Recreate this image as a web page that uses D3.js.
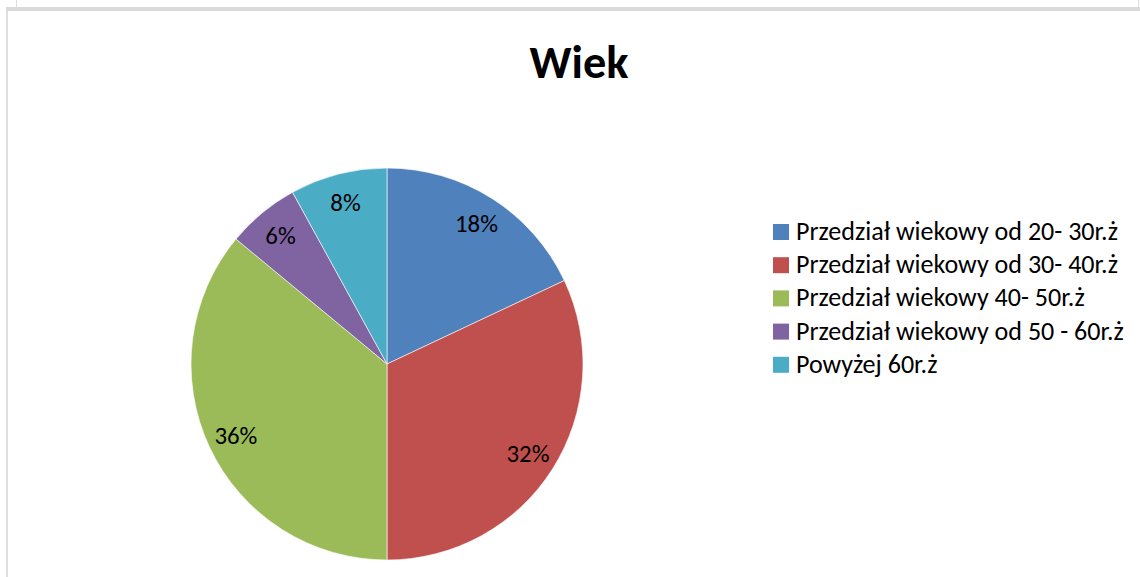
<!DOCTYPE html>
<html>
<head>
  <meta charset="utf-8">
  <title>Wiek</title>
  <style>
    body,html{
      margin:0;
      padding:0;
      background:#fff;
      font-family: Carlito, Lato, "Open Sans", sans-serif;
    }
  </style>
</head>
<body>
  <div id="container"></div>
  <script src="https://cdn.jsdelivr.net/npm/d3@7"></script>
  <script>
    // data
    var categories = [
      'Przedział wiekowy od 20- 30r.ż',
      'Przedział wiekowy od 30- 40r.ż',
      'Przedział wiekowy 40- 50r.ż',
      'Przedział wiekowy od 50 - 60r.ż',
      'Powyżej 60r.ż'
    ];
    var values = [18, 32, 36, 6, 8];
    var colors = ['#4f81bd', '#c0504d', '#9bbb59', '#8064a2', '#4bacc6'];
    var title = 'Wiek';

    var W = 1140, H = 577;
    var cx = 387, cy = 364, R = 196;

    var svg = d3.select('#container').append('svg')
      .attr('width', W).attr('height', H);

    // frames (bottom of previous chart box + this chart box)
    svg.append('rect').attr('x', 16).attr('y', 0).attr('width', 1).attr('height', 8).attr('fill', '#dcdcdc');
    svg.append('rect').attr('x', 1138).attr('y', 0).attr('width', 1).attr('height', 8).attr('fill', '#dcdcdc');
    svg.append('rect').attr('x', 6).attr('y', 7).attr('width', W).attr('height', 4).attr('fill', '#dadada');
    svg.append('rect').attr('x', 6).attr('y', 10).attr('width', 2).attr('height', H).attr('fill', '#dedede');

    // fit text to a target width
    function fit(sel, target){
      var n = sel.node();
      var fs = parseFloat(sel.attr('font-size'));
      var w = n.getComputedTextLength();
      sel.attr('font-size', (fs*target/w).toFixed(2));
    }

    var t = svg.append('text')
      .attr('x', 579).attr('y', 78)
      .attr('text-anchor', 'middle')
      .attr('font-weight', 'bold')
      .attr('font-size', 40)
      .attr('fill', '#000')
      .text(title);
    fit(t, 99);

    var pie = d3.pie().sort(null).value(function(d){return d;});
    var arc = d3.arc().innerRadius(0).outerRadius(R);
    var labelArc = d3.arc().innerRadius(167).outerRadius(167);

    var g = svg.append('g').attr('transform', 'translate('+cx+','+cy+')');
    var arcs = pie(values);

    g.selectAll('path').data(arcs).enter().append('path')
      .attr('d', arc)
      .attr('fill', function(d,i){return colors[i];})
      .attr('stroke', '#fff')
      .attr('stroke-width', 0.6);

    var labels = g.selectAll('text').data(arcs).enter().append('text')
      .attr('transform', function(d){return 'translate('+labelArc.centroid(d)+')';})
      .attr('text-anchor', 'middle')
      .attr('dy', '0.35em')
      .attr('font-size', 22)
      .attr('fill', '#000')
      .text(function(d){return d.data+'%';});
    // size from the "18%" label
    var lw = labels.nodes()[0].getComputedTextLength();
    labels.attr('font-size', (22*43/lw).toFixed(2));

    // legend
    var legend = svg.append('g').attr('transform', 'translate(773,224)');
    var rows = legend.selectAll('g').data(categories).enter().append('g')
      .attr('transform', function(d,i){return 'translate(0,'+(i*33.2)+')';});
    rows.append('rect')
      .attr('width', 16).attr('height', 16)
      .attr('fill', function(d,i){return colors[i];});
    var lt = rows.append('text')
      .attr('x', 23).attr('y', 16)
      .attr('font-size', 22)
      .attr('fill', '#000')
      .text(function(d){return d;});
    var w0 = lt.nodes()[0].getComputedTextLength();
    lt.attr('font-size', (22*322/w0).toFixed(2));
  </script>
</body>
</html>
